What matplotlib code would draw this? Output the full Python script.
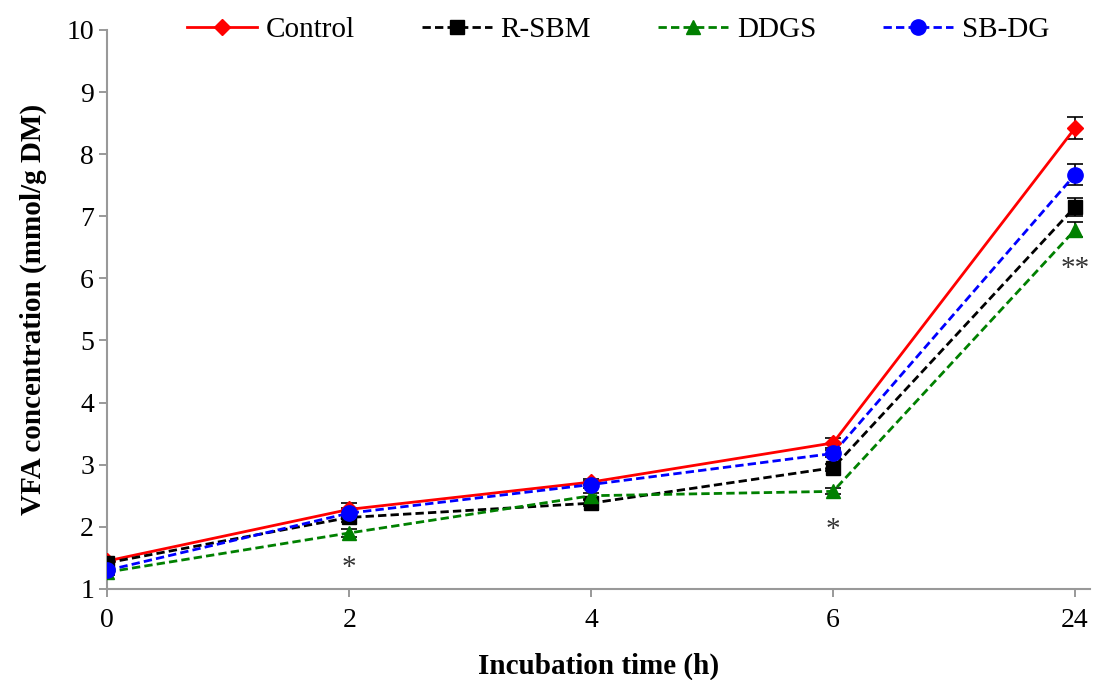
import numpy as np
import matplotlib.pyplot as plt

plt.rcParams['font.family'] = ['Liberation Serif', 'DejaVu Serif']

time_labels = ['0', '2', '4', '6', '24']
control = [1.45, 2.28, 2.72, 3.35, 8.42]
r_sbm = [1.42, 2.15, 2.38, 2.95, 7.15]
ddgs = [1.27, 1.90, 2.50, 2.57, 6.78]
sb_dg = [1.30, 2.22, 2.68, 3.18, 7.67]
control_err = [0.05, 0.10, 0.05, 0.08, 0.17]
r_sbm_err = [0.05, 0.08, 0.05, 0.06, 0.15]
ddgs_err = [0.04, 0.06, 0.05, 0.05, 0.12]
sb_dg_err = [0.05, 0.08, 0.05, 0.06, 0.17]
star_x = [1, 3, 4]
star_y = [1.33, 1.95, 6.15]
star_txt = ['*', '*', '**']

x = np.arange(len(time_labels))

fig = plt.figure(figsize=(10.95, 6.8), dpi=100)
ax = fig.add_axes([0.098, 0.134, 0.897, 0.822])

series = [
    ('Control', control, control_err, 'red', '-', 'D', 8),
    ('R-SBM', r_sbm, r_sbm_err, 'black', '--', 's', 10),
    ('DDGS', ddgs, ddgs_err, 'green', '--', '^', 10),
    ('SB-DG', sb_dg, sb_dg_err, 'blue', '--', 'o', 11),
]
for name, vals, err, col, ls, mk, ms in series:
    ax.errorbar(x, vals, yerr=err, fmt='none', ecolor='black', elinewidth=1.2,
                capsize=6, capthick=1.2, zorder=2)
    ax.plot(x, vals, color=col, linestyle=ls, linewidth=2, marker=mk,
            markersize=ms, label=name, zorder=3, dashes=(3, 1.5) if ls == '--' else (None, None))

for sx, sy, st in zip(star_x, star_y, star_txt):
    ax.text(sx, sy, st, ha='center', va='center', fontsize=21, color='#333333')

ax.set_xlim(0, 4.06)
ax.set_ylim(1, 10)
ax.set_xticks(x)
ax.set_xticklabels(time_labels)
ax.set_yticks(range(1, 11))
ax.tick_params(axis='both', labelsize=20, direction='out', length=6, color='#888888', width=1.2)
ax.tick_params(axis='x', pad=8)
for s in ['top', 'right']:
    ax.spines[s].set_visible(False)
for s in ['left', 'bottom']:
    ax.spines[s].set_color('#999999')
    ax.spines[s].set_linewidth(1.5)

ax.set_xlabel('Incubation time (h)', fontsize=21, fontweight='bold', labelpad=14)
ax.set_ylabel('VFA concentration (mmol/g DM)', fontsize=21, fontweight='bold', labelpad=14)

ax.legend(loc='center', bbox_to_anchor=(0.52, 1.0), ncol=4, frameon=False,
          fontsize=21, handlelength=2.4, columnspacing=2.3, handletextpad=0.3)

fig.savefig('out.png', dpi=100)
